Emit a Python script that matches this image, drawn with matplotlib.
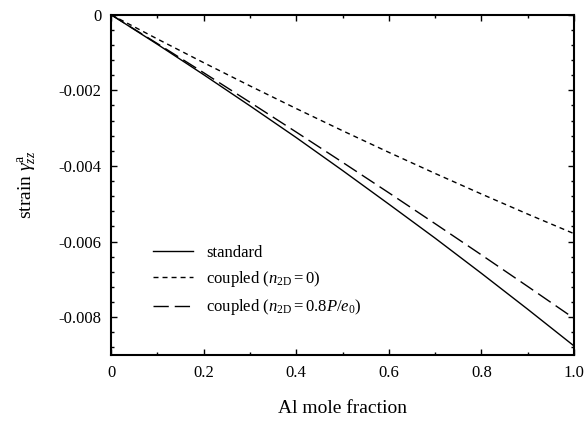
import matplotlib
matplotlib.use("Agg")
import matplotlib.pyplot as plt
from matplotlib.ticker import MultipleLocator, FuncFormatter

plt.rcParams['font.family'] = ['Liberation Serif', 'DejaVu Serif']
plt.rcParams['mathtext.fontset'] = 'custom'
plt.rcParams['mathtext.rm'] = 'Liberation Serif'
plt.rcParams['mathtext.it'] = 'Liberation Serif:italic'
plt.rcParams['mathtext.bf'] = 'Liberation Serif:bold'
plt.rcParams['lines.scale_dashes'] = False

al_fraction = [0.0, 0.1, 0.2, 0.3, 0.4, 0.5, 0.6, 0.7, 0.8, 0.9, 1.0]
strain_standard = [0.0, -0.000782, -0.001586, -0.00241, -0.00325, -0.00412,
                   -0.00501, -0.00591, -0.00684, -0.00779, -0.00876]
strain_coupled_n0 = [0.0, -0.000641, -0.001268, -0.001882, -0.002482, -0.003068,
                     -0.003640, -0.004198, -0.004742, -0.005273, -0.00579]
strain_coupled_n08 = [0.0, -0.000763, -0.001534, -0.002315, -0.003104, -0.003903,
                      -0.004710, -0.005527, -0.006352, -0.007187, -0.00803]
labels = ['standard', r'coupled ($n_{\mathrm{2D}} = 0$)',
          r'coupled ($n_{\mathrm{2D}} = 0.8P/e_0$)']

fig = plt.figure(figsize=(5.85, 4.22), dpi=100)
ax = fig.add_axes([0.19, 0.159, 0.791, 0.806])

ax.plot(al_fraction, strain_standard, color='black', lw=1.0, label=labels[0])
ax.plot(al_fraction, strain_coupled_n0, color='black', lw=1.0, dashes=(3.6, 2.9), label=labels[1])
ax.plot(al_fraction, strain_coupled_n08, color='black', lw=1.0, dashes=(11, 4.3), label=labels[2])

ax.set_xlim(0, 1.0)
ax.set_ylim(-0.009, 0)
ax.xaxis.set_major_locator(MultipleLocator(0.2))
ax.xaxis.set_minor_locator(MultipleLocator(0.1))
ax.yaxis.set_major_locator(MultipleLocator(0.002))
ax.yaxis.set_minor_locator(MultipleLocator(0.0004))

def xfmt(v, pos):
    if abs(v) < 1e-9:
        return '0'
    return f'{v:.1f}'

def yfmt(v, pos):
    if abs(v) < 1e-9:
        return '0'
    return f'{v:.3f}'.replace('\u2212', '-')

ax.xaxis.set_major_formatter(FuncFormatter(xfmt))
ax.yaxis.set_major_formatter(FuncFormatter(yfmt))

ax.tick_params(which='both', direction='in', top=True, right=True, labelsize=12, width=1.0)
ax.tick_params(which='major', length=4, pad=7)
ax.tick_params(which='minor', length=2.5)
for s in ax.spines.values():
    s.set_linewidth(1.5)

ax.set_xlabel('Al mole fraction', fontsize=14, labelpad=14)
ax.set_ylabel(r'strain $\gamma^{\mathrm{a}}_{zz}$', fontsize=14, labelpad=14)

ax.legend(loc='lower left', bbox_to_anchor=(0.057, 0.066), frameon=False, fontsize=12,
          handlelength=2.45, handletextpad=0.75, labelspacing=0.5)

fig.savefig('out.png', dpi=100)
